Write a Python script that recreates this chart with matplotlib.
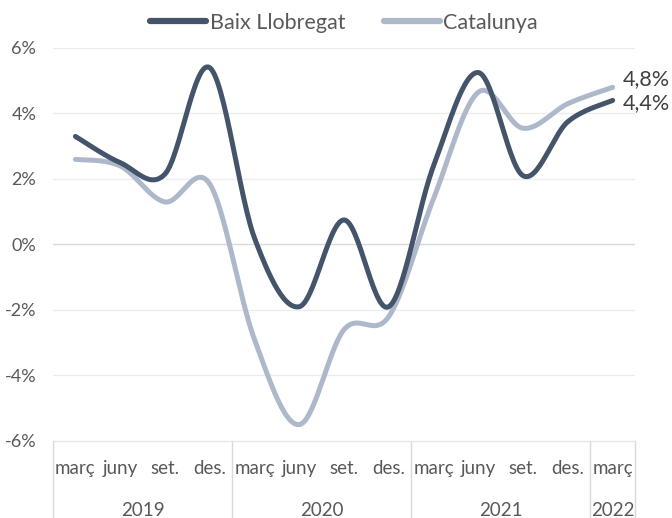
import numpy as np
import matplotlib
matplotlib.use("Agg")
import matplotlib.pyplot as plt
from matplotlib.lines import Line2D

# Data (quarterly, % year-on-year)
months = ["març", "juny", "set.", "des."] * 3 + ["març"]
years = ["2019", "2020", "2021", "2022"]
year_spans = [(0, 3), (4, 7), (8, 11), (12, 12)]
baix = [3.3, 2.5, 2.15, 5.4, 0.2, -1.9, 0.75, -1.9, 2.4, 5.25, 2.1, 3.75, 4.4]
catalunya = [2.6, 2.4, 1.3, 1.85, -2.9, -5.5, -2.6, -2.2, 1.4, 4.65, 3.55, 4.3, 4.8]

dark = "#44546A"
light = "#ADB9CA"
txt = "#595959"

plt.rcParams['font.family'] = ['Lato', 'DejaVu Sans']


def smooth(y, n=30):
    # Excel style smoothed line (Catmull-Rom bezier through the points)
    x = np.arange(len(y), dtype=float)
    p = np.column_stack([x, np.asarray(y, dtype=float)])
    pts = np.vstack([p[0], p, p[-1]])
    out = []
    t = np.linspace(0, 1, n)[:, None]
    for i in range(1, len(pts) - 2):
        p0, p1, p2, p3 = pts[i - 1], pts[i], pts[i + 1], pts[i + 2]
        b1 = p1 + (p2 - p0) / 6
        b2 = p2 - (p3 - p1) / 6
        seg = ((1 - t) ** 3) * p1 + 3 * ((1 - t) ** 2) * t * b1 + 3 * (1 - t) * t ** 2 * b2 + t ** 3 * p2
        out.append(seg if i == 1 else seg[1:])
    out = np.vstack(out)
    return out[:, 0], out[:, 1]


fig = plt.figure(figsize=(6.72, 5.18), dpi=100)
ax = fig.add_axes([53 / 672, 1 - 441 / 518, 582 / 672, 393 / 518])

for vals, col, name in [(catalunya, light, "Catalunya"), (baix, dark, "Baix Llobregat")]:
    sx, sy = smooth(vals)
    ax.plot(sx, sy, color=col, lw=3.6, solid_capstyle="round", label=name)

ax.set_xlim(-0.5, len(months) - 0.5)
ax.set_ylim(-6, 6)
ax.set_yticks(range(-6, 7, 2))
ax.set_yticklabels([f"{v}%" for v in range(-6, 7, 2)])
ax.tick_params(axis="y", length=0, pad=12, labelsize=13, labelcolor=txt)
ax.set_xticks([])
for s in ax.spines.values():
    s.set_visible(False)

for v in range(-4, 7, 2):
    ax.axhline(v, color="#EDEDED" if v != 0 else "#D9D9D9", lw=1, zorder=0)

# category axis: month labels, year labels and separators
trans = ax.get_xaxis_transform()
for i, m in enumerate(months):
    ax.text(i, -0.069, m, transform=trans, ha="center", va="center", fontsize=13.5, color=txt)
for yr, (a, b) in zip(years, year_spans):
    ax.text((a + b) / 2, -0.176, yr, transform=trans, ha="center", va="center", fontsize=13.5, color=txt)
for xb in [-0.5, 3.5, 7.5, 11.5, 12.5]:
    ax.add_line(Line2D([xb, xb], [0, -0.2], transform=trans, color="#D9D9D9", lw=1, clip_on=False))
ax.add_line(Line2D([-0.5, 12.5], [0, 0], transform=trans, color="#E6E6E6", lw=1, clip_on=False))

# end labels
ax.annotate(f"{catalunya[-1]:.1f}%".replace(".", ","), (12, catalunya[-1]), xytext=(7, 6),
            textcoords="offset points", va="center", ha="left", fontsize=15.5, color="#404040",
            annotation_clip=False)
ax.annotate(f"{baix[-1]:.1f}%".replace(".", ","), (12, baix[-1]), xytext=(7, -2),
            textcoords="offset points", va="center", ha="left", fontsize=15.5, color="#404040",
            annotation_clip=False)

handles = [Line2D([], [], color=dark, lw=4.5, solid_capstyle="round"),
           Line2D([], [], color=light, lw=4.5, solid_capstyle="round")]
fig.legend(handles, ["Baix Llobregat", "Catalunya"], loc="center", bbox_to_anchor=(0.512, 0.956),
           ncol=2, frameon=False, fontsize=15.5, labelcolor=txt, handlelength=2.6,
           handletextpad=0.15, columnspacing=1.8)

fig.savefig("out.png", dpi=100)
